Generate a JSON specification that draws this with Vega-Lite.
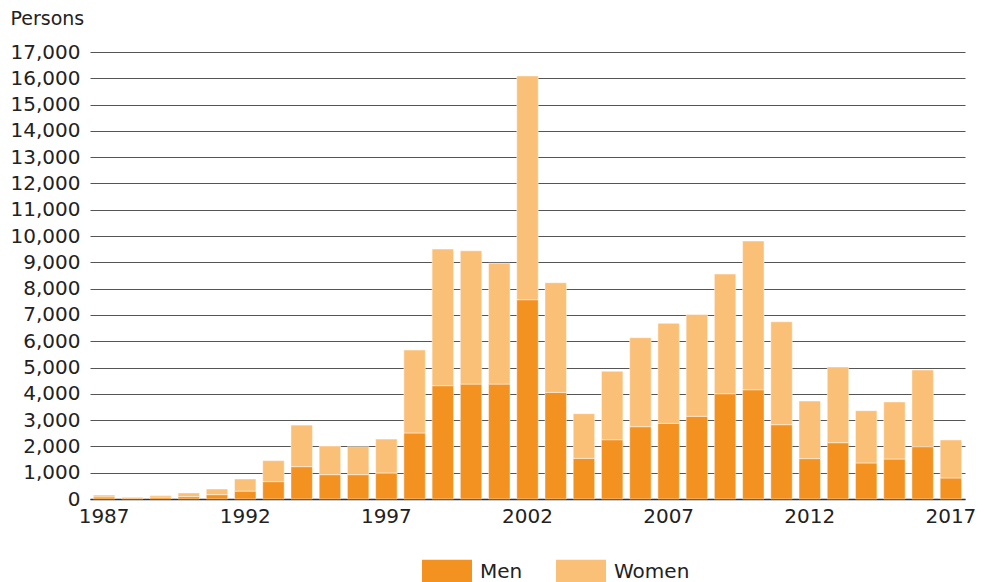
{
  "$schema": "https://vega.github.io/schema/vega-lite/v6.json",
  "autosize": {"type": "none"},
  "width": 875,
  "height": 447,
  "padding": {"left": 90, "top": 52, "right": 20, "bottom": 83},
  "background": "white",
  "config": {
    "font": "DejaVu Sans",
    "view": {"stroke": null}
  },
  "data": {
    "values": [
      {"year": 1987, "sex": "Men", "value": 80},
      {"year": 1987, "sex": "Women", "value": 70},
      {"year": 1988, "sex": "Men", "value": 40},
      {"year": 1988, "sex": "Women", "value": 30},
      {"year": 1989, "sex": "Men", "value": 70},
      {"year": 1989, "sex": "Women", "value": 60},
      {"year": 1990, "sex": "Men", "value": 90},
      {"year": 1990, "sex": "Women", "value": 140},
      {"year": 1991, "sex": "Men", "value": 165},
      {"year": 1991, "sex": "Women", "value": 215},
      {"year": 1992, "sex": "Men", "value": 300},
      {"year": 1992, "sex": "Women", "value": 460},
      {"year": 1993, "sex": "Men", "value": 660},
      {"year": 1993, "sex": "Women", "value": 800},
      {"year": 1994, "sex": "Men", "value": 1230},
      {"year": 1994, "sex": "Women", "value": 1580},
      {"year": 1995, "sex": "Men", "value": 925},
      {"year": 1995, "sex": "Women", "value": 1090},
      {"year": 1996, "sex": "Men", "value": 925},
      {"year": 1996, "sex": "Women", "value": 1065},
      {"year": 1997, "sex": "Men", "value": 990},
      {"year": 1997, "sex": "Women", "value": 1290},
      {"year": 1998, "sex": "Men", "value": 2510},
      {"year": 1998, "sex": "Women", "value": 3155},
      {"year": 1999, "sex": "Men", "value": 4310},
      {"year": 1999, "sex": "Women", "value": 5195},
      {"year": 2000, "sex": "Men", "value": 4370},
      {"year": 2000, "sex": "Women", "value": 5070},
      {"year": 2001, "sex": "Men", "value": 4370},
      {"year": 2001, "sex": "Women", "value": 4600},
      {"year": 2002, "sex": "Men", "value": 7580},
      {"year": 2002, "sex": "Women", "value": 8510},
      {"year": 2003, "sex": "Men", "value": 4055},
      {"year": 2003, "sex": "Women", "value": 4170},
      {"year": 2004, "sex": "Men", "value": 1545},
      {"year": 2004, "sex": "Women", "value": 1700},
      {"year": 2005, "sex": "Men", "value": 2255},
      {"year": 2005, "sex": "Women", "value": 2600},
      {"year": 2006, "sex": "Men", "value": 2750},
      {"year": 2006, "sex": "Women", "value": 3385},
      {"year": 2007, "sex": "Men", "value": 2875},
      {"year": 2007, "sex": "Women", "value": 3805},
      {"year": 2008, "sex": "Men", "value": 3145},
      {"year": 2008, "sex": "Women", "value": 3875},
      {"year": 2009, "sex": "Men", "value": 4005},
      {"year": 2009, "sex": "Women", "value": 4550},
      {"year": 2010, "sex": "Men", "value": 4155},
      {"year": 2010, "sex": "Women", "value": 5655},
      {"year": 2011, "sex": "Men", "value": 2825},
      {"year": 2011, "sex": "Women", "value": 3915},
      {"year": 2012, "sex": "Men", "value": 1535},
      {"year": 2012, "sex": "Women", "value": 2190},
      {"year": 2013, "sex": "Men", "value": 2140},
      {"year": 2013, "sex": "Women", "value": 2880},
      {"year": 2014, "sex": "Men", "value": 1370},
      {"year": 2014, "sex": "Women", "value": 1990},
      {"year": 2015, "sex": "Men", "value": 1520},
      {"year": 2015, "sex": "Women", "value": 2170},
      {"year": 2016, "sex": "Men", "value": 1990},
      {"year": 2016, "sex": "Women", "value": 2915},
      {"year": 2017, "sex": "Men", "value": 800},
      {"year": 2017, "sex": "Women", "value": 1445}
    ]
  },
  "mark": {"type": "bar", "stroke": "#ffffff", "strokeOpacity": 0.45, "strokeWidth": 1},
  "encoding": {
    "x": {
      "field": "year",
      "type": "ordinal",
      "scale": {"paddingInner": 0.24, "paddingOuter": 0.12},
      "axis": {
        "title": null,
        "values": [1987, 1992, 1997, 2002, 2007, 2012, 2017],
        "labelAngle": 0,
        "labelFontSize": 20,
        "labelColor": "#222222",
        "labelPadding": 7,
        "ticks": false,
        "domainColor": "#333333",
        "domainWidth": 1.5,
        "grid": false
      }
    },
    "y": {
      "field": "value",
      "type": "quantitative",
      "stack": "zero",
      "scale": {"domain": [0, 17000], "nice": false},
      "axis": {
        "title": "Persons",
        "titleAngle": 0,
        "titleAlign": "left",
        "titleBaseline": "middle",
        "titleX": -80,
        "titleY": -34,
        "titleFontSize": 19,
        "titleFontWeight": "normal",
        "titleColor": "#222222",
        "values": [0, 1000, 2000, 3000, 4000, 5000, 6000, 7000, 8000, 9000, 10000, 11000, 12000, 13000, 14000, 15000, 16000, 17000],
        "format": ",.0f",
        "labelFontSize": 20,
        "labelColor": "#222222",
        "labelPadding": 10,
        "ticks": false,
        "domain": false,
        "grid": true,
        "gridColor": "#555555",
        "gridWidth": 1
      }
    },
    "color": {
      "field": "sex",
      "type": "nominal",
      "scale": {"domain": ["Men", "Women"], "range": ["#F39221", "#FBC077"]},
      "legend": {
        "title": null,
        "orient": "none",
        "direction": "horizontal",
        "legendX": 332,
        "legendY": 495,
        "symbolType": "M-1,-0.5H1V0.5H-1Z",
        "symbolSize": 2500,
        "symbolStrokeWidth": 0,
        "symbolOpacity": 1,
        "labelFontSize": 20,
        "labelColor": "#222222",
        "labelOffset": 8,
        "columnPadding": 33
      }
    },
    "order": {"field": "sex", "sort": "ascending"}
  }
}
